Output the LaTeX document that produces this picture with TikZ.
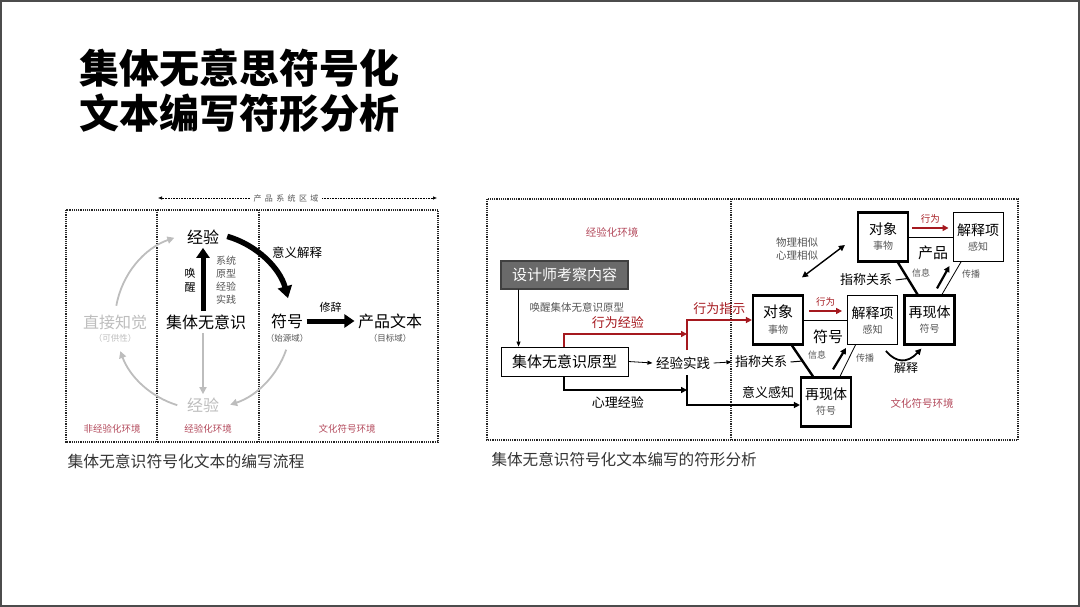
\documentclass[tikz,border=0pt]{standalone}
\usepackage{fontspec}
\setmainfont{Noto Sans CJK SC}
\usetikzlibrary{positioning,calc,arrows.meta}
\definecolor{envred}{HTML}{B34A5C}
\definecolor{arred}{HTML}{A5191F}
\definecolor{ltgray}{HTML}{BDBDBD}
\definecolor{subgray}{HTML}{555555}
\definecolor{boxgray}{HTML}{6A6A6A}
\def\fs#1{\fontsize{#1}{#1}\selectfont}

\begin{document}
\begin{tikzpicture}[x=1pt,y=-1pt,
  zone/.style={densely dotted,line width=1.2pt,black!85},
  envlabel/.style={text=envred,font=\fs{9.5}},
  heavy/.style={line width=5pt,-{Triangle[length=10pt,width=13pt]}},
  faint/.style={ltgray,line width=1.8pt,-{Triangle[length=7pt,width=7pt]}},
  thing/.style={draw,line width=2.2pt,minimum width=50,minimum height=49,inner sep=0,align=center,font=\fs{14}},
  interp/.style={thing,line width=0.9pt},
  redarr/.style={arred,line width=2pt,-{Triangle[length=6pt,width=6pt]}},
  blkarr/.style={black,line width=2pt,-{Triangle[length=6pt,width=6pt]}},
  note/.style={font=\fs{9},subgray}]
\useasboundingbox (0,0) rectangle (1080,607);
\draw[line width=2pt,black!70] (1,1) rectangle (1079,606);
% slide title
\node[anchor=west,font=\fs{40}\bfseries] (title1) at (76,68) {集体无意思符号化};
\node[anchor=west,font=\fs{40}\bfseries] (title2) at (76,113) {文本编写符形分析};

% ---- left: writing flow (three environments)
\draw[zone] (66,210) rectangle (438,442);
\draw[zone] (157,210) -- (157,442);
\draw[zone] (259,210) -- (259,442);
\node[font=\fs{8},subgray] (sysz) at (286,198) {产\hspace{3.4pt}品\hspace{3.4pt}系\hspace{3.4pt}统\hspace{3.4pt}区\hspace{3.4pt}域};
\coordinate (zl) at (158,198);
\coordinate (zr) at (437,198);
\draw[densely dotted,line width=0.6pt,-{Latex[length=4pt,width=3.5pt]}] (sysz.west) -- (zl);
\draw[densely dotted,line width=0.6pt,-{Latex[length=4pt,width=3.5pt]}] (sysz.east) -- (zr);
\node[envlabel] (env1) at (112,429) {非经验化环境};
\node[envlabel] (env2) at (208,429) {经验化环境};
\node[envlabel] (env3) at (347,429) {文化符号环境};
% cycle around the collective unconscious
\coordinate (cyc) at (203,321);
\node[font=\fs{16}] (expT) at (203,237) {经验};
\node[font=\fs{16}] (unc) at (206,322) {集体无意识};
\node[font=\fs{16},ltgray] (expB) at (203,405) {经验};
\node[font=\fs{16},ltgray] (perc) at (115,322) {直接知觉};
\node[font=\fs{8.5},ltgray] (percsub) at (115,338) {（可供性）};
\node[font=\fs{16}] (sign) at (287,321) {符号};
\node[font=\fs{8.5},subgray] (signsub) at (287,338) {（始源域）};
\node[font=\fs{16}] (prod) at (390,321) {产品文本};
\node[font=\fs{8.5},subgray] (prodsub) at (390,338) {（目标域）};
\node[font=\fs{11},align=center] (wake) at (190,280) {唤\\[3pt]醒};
\node[font=\fs{10},align=center,subgray] (sys) at (226,280.5) {系统\\[3pt]原型\\[3pt]经验\\[3pt]实践};
\draw[heavy] (unc.north -| expT.south) -- (expT.south);
\draw[faint] (unc.south -| expB.north) -- (expB.north);
\draw[faint] ($(cyc)+(-170:88)$) arc[start angle=-170,end angle=-109,radius=88];
\draw[faint] ($(cyc)+(107:88)$) arc[start angle=107,end angle=160,radius=88];
\draw[faint] ($(cyc)+(19:88)$) arc[start angle=19,end angle=72,radius=88];
\draw[line width=5.5pt,-{Triangle[length=12pt,width=14pt]}] ($(cyc)+(-74:88)$) arc[start angle=-74,end angle=-15,radius=88];
\node[font=\fs{12.5}] (meaning) at (297,253) {意义解释};
\draw[heavy] (sign.east) -- node[above=3pt,font=\fs{11}] (rhet) {修辞} (prod.west);
\node[anchor=west,font=\fs{15.8},black!80] (cap1) at (64,461) {集体无意识符号化文本的编写流程};

% ---- right: sign-form analysis
\draw[zone] (487,199) rectangle (1018,440);
\draw[zone] (731,199) -- (731,440);
\node[envlabel,font=\fs{10.5}] (env4) at (612,232) {经验化环境};
\node[envlabel,font=\fs{10.5}] (env5) at (922,403) {文化符号环境};
\node[fill=boxgray,draw=black!75,line width=1.2pt,text=white,font=\fs{15},minimum width=127,minimum height=28,inner sep=0] (design) at (564.5,275) {设计师考察内容};
\node[draw,line width=0.9pt,font=\fs{15},minimum width=127,minimum height=29,inner sep=0] (arch) at (564.5,361.5) {集体无意识原型};
\draw[-{Triangle[length=5pt,width=4pt]},line width=0.7pt] ($(design.south west)+(18,0)$) -- ($(arch.north west)+(18,0)$);
\node[anchor=west,font=\fs{10.5},subgray] (wakearch) at (526,307) {唤醒集体无意识原型};
\node[font=\fs{13.5}] (prac) at (683,363) {经验实践};
\node[font=\fs{13}] (ref1) at (761,362) {指称关系};
\draw[-{Triangle[length=5pt,width=4pt]},line width=0.8pt] (arch.east) -- (prac.west);
\draw[-{Triangle[length=5pt,width=4pt]},line width=0.8pt] (prac.east) -- (ref1.west);
\coordinate (jr) at (687,350);
\coordinate (jr2) at (687,334);
\coordinate (jb) at (687,375);
\coordinate (jb2) at (687,390);
% object / interpretant / representamen (middle)
\node[thing,font=\fs{15}] (obj1) at (778,320) {对象\\[1pt]{\fs{10}\color{subgray}事物}};
\node[interp] (int1) at (872.5,320) {解释项\\[1pt]{\fs{10}\color{subgray}感知}};
\node[thing] (rep1) at (826,402) {再现体\\[1pt]{\fs{10}\color{subgray}符号}};
% object / interpretant / representamen (right)
\node[thing] (obj2) at (883,237) {对象\\[1pt]{\fs{10}\color{subgray}事物}};
\node[interp] (int2) at (978,237) {解释项\\[1pt]{\fs{10}\color{subgray}感知}};
\node[thing] (rep2) at (929.5,320) {再现体\\[1pt]{\fs{10}\color{subgray}符号}};
% red: behaviour
\draw[redarr] ($(arch.north west)+(63,0)$) |- node[pos=0.72,above=1pt,font=\fs{13},text=arred] (bexp) {行为经验} (jr2);
\draw[redarr] (jr) |- node[pos=0.75,above=1pt,font=\fs{13},text=arred] (bind) {行为指示} (obj1.west);
% black: psychology
\draw[blkarr] ($(arch.south west)+(63,0)$) |- node[pos=0.72,below=2pt,font=\fs{13},text=black] (psy) {心理经验} (jb2);
\draw[blkarr] (jb) |- ($(rep1.west)+(0,3)$);
\node[font=\fs{13}] (sense) at (768,392) {意义感知};
% middle triangle
\draw[redarr,line width=2.2pt] ($(obj1.east)+(5,-9)$) -- node[above=0pt,font=\fs{9.5},text=arred] (act1) {行为} ($(int1.west)+(-5,-9)$);
\draw[line width=0.8pt] (obj1.east) -- (int1.west);
\node[font=\fs{15}] (sym1) at ($(obj1.east)+(24,17)$) {符号};
\coordinate (d1a) at ($(obj1.south)+(14,0)$);
\coordinate (d1b) at ($(rep1.north)+(-13,0)$);
\draw[line width=2.4pt] (d1a) -- (d1b);
\draw[line width=1pt] (ref1.east) -- ($(d1a)!0.5!(d1b)$);
\node[note] (info1) at (817,355) {信息};
\draw[line width=2.2pt,-{Triangle[length=6pt,width=6pt]}] ($(rep1.north)+(7,-7)$) -- ($(int1.south west)+(-1,3)$);
\draw[line width=0.8pt] ($(rep1.north)+(14,0)$) -- ($(int1.south)+(-17,0)$);
\node[note] (spr1) at (865,358) {传播};
% right triangle
\draw[redarr,line width=2.2pt] ($(obj2.east)+(3,-9)$) -- node[above=0pt,font=\fs{9.5},text=arred] (act2) {行为} ($(int2.west)+(-4,-9)$);
\draw[line width=0.8pt] (obj2.east) -- (int2.west);
\node[font=\fs{15}] (prod2) at ($(obj2.east)+(24,16)$) {产品};
\coordinate (d2a) at ($(obj2.south)+(15,0)$);
\coordinate (d2b) at ($(rep2.north)+(-12,0)$);
\draw[line width=2.4pt] (d2a) -- (d2b);
\node[font=\fs{13}] (ref2) at (866,280) {指称关系};
\draw[line width=1pt] (ref2.east) -- ($(d2a)!0.5!(d2b)$);
\node[note] (info2) at (921,273) {信息};
\draw[line width=2.2pt,-{Triangle[length=6pt,width=6pt]}] ($(rep2.north)+(7.5,-6)$) -- ($(int2.south west)+(-3,4)$);
\draw[line width=0.8pt] ($(rep2.north)+(12.5,0)$) -- ($(int2.south)+(-17,0)$);
\node[note] (spr2) at (971,274) {传播};
% interpretation loop and similarity link
\draw[line width=1.8pt,-{Triangle[length=6pt,width=6pt]}] ($(int1.south east)+(-12,6)$) .. controls ($(int1.south east)+(-2,18)$) and ($(rep2.south west)+(4,18)$) .. ($(rep2.south west)+(18,3)$);
\node[font=\fs{12}] (interp) at (906,368) {解释};
\draw[line width=1.4pt,{Triangle[length=6pt,width=6pt]}-{Triangle[length=6pt,width=6pt]}] ($(obj1.north)+(24,-17)$) -- ($(obj2.west)+(-12,8)$);
\node[font=\fs{10.5},align=center,subgray] (simil) at (797,249) {物理相似\\[2pt]心理相似};
\node[anchor=west,font=\fs{15.6},black!80] (cap2) at (488,460) {集体无意识符号化文本编写的符形分析};
\end{tikzpicture}
\end{document}
